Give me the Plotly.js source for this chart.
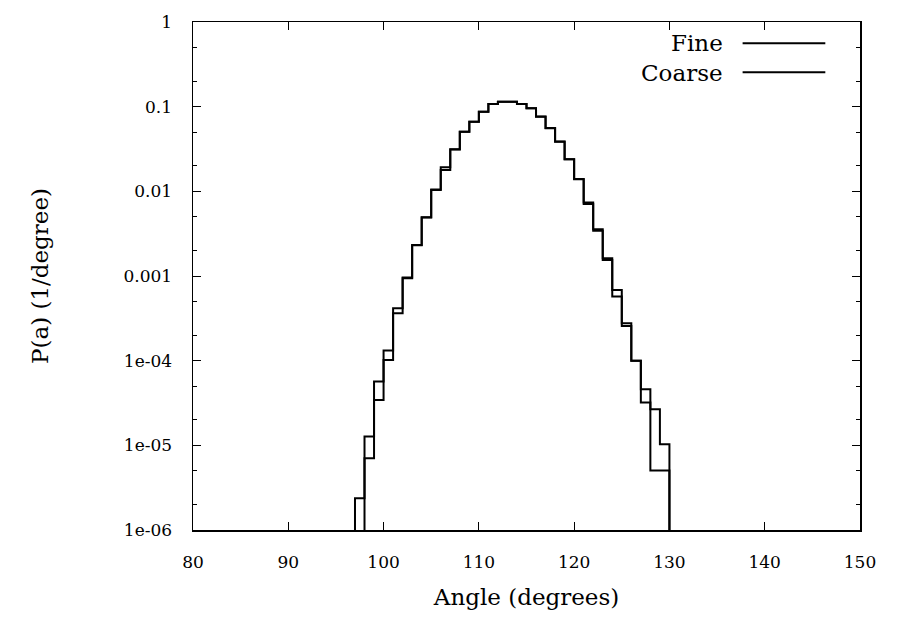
<!DOCTYPE html>
<html>
<head>
<meta charset="utf-8">
<script src="https://cdn.plot.ly/plotly-3.0.1.min.js"></script>
<style>html,body{margin:0;padding:0;background:#fff;}#chart{width:906px;height:623px;}</style>
</head>
<body>
<div id="chart"></div>
<script>
// Bin edges (degrees), 1-degree bins
var binEdges = [97,98,99,100,101,102,103,104,105,106,107,108,109,110,111,112,113,114,115,116,117,118,119,120,121,122,123,124,125,126,127,128,129,130];
// P(a) per bin (1/degree), bins 97..129
var fineVals = [2.37e-6,1.27e-5,5.66e-5,1.32e-4,4.17e-4,9.57e-4,2.33e-3,4.94e-3,0.0105,0.0192,0.0314,0.0507,0.0665,0.0873,0.1076,0.1146,0.1140,0.1076,0.0958,0.0762,0.0556,0.0386,0.0239,0.0139,7.10e-3,3.43e-3,1.55e-3,5.71e-4,2.57e-4,9.95e-5,3.2e-5,5.04e-6,5.04e-6];
var coarseVals = [0,7.06e-6,3.44e-5,1.02e-4,3.64e-4,9.4e-4,2.30e-3,4.90e-3,0.0104,0.0179,0.0312,0.0505,0.0665,0.0870,0.1075,0.1145,0.1140,0.1078,0.0960,0.0765,0.0558,0.0388,0.0240,0.0140,7.36e-3,3.56e-3,1.62e-3,6.85e-4,2.77e-4,9.95e-5,4.6e-5,2.67e-5,1.03e-5];
var seriesNames = ["Fine","Coarse"];
var yTickVals = [1,0.1,0.01,0.001,1e-4,1e-5,1e-6];
var yTickText = ["1","0.1","0.01","0.001","1e-04","1e-05","1e-06"];
var xTickVals = [80,90,100,110,120,130,140,150];

var FLOOR = 1e-9;
function stepTrace(vals, name){
  var x = [binEdges[0]].concat(binEdges);
  var y = [FLOOR].concat(vals.map(function(v){return v>0?v:FLOOR;})).concat([FLOOR]);
  return {x:x, y:y, name:name, type:'scatter', mode:'lines',
          line:{shape:'hv', color:'#000', width:2}, showlegend:false, hoverinfo:'skip'};
}
var fam = '"DejaVu Serif", "Liberation Serif", serif';
var tickFont = {family:fam, size:17, color:'#000'};
var textFont = {family:fam, size:23, color:'#000'};
var data = [stepTrace(fineVals, seriesNames[0]), stepTrace(coarseVals, seriesNames[1])];

var axisCommon = {showline:true, linecolor:'#000', linewidth:1.5, mirror:'allticks',
  ticks:'inside', ticklen:8, tickwidth:1, tickcolor:'#000', showgrid:false, zeroline:false,
  tickfont:tickFont};

var layout = {
  width:906, height:623,
  margin:{l:193, r:46, t:22, b:93},
  paper_bgcolor:'#fff', plot_bgcolor:'#fff',
  font:tickFont,
  showlegend:false,
  xaxis: Object.assign({}, axisCommon, {
    range:[80,150], tickmode:'array', tickvals:xTickVals, ticktext:xTickVals.map(String),
    ticklabelstandoff:16,
    title:{text:'Angle (degrees)', font:textFont, standoff:18}
  }),
  yaxis: Object.assign({}, axisCommon, {
    type:'log', range:[-6,0], tickmode:'array', tickvals:yTickVals, ticktext:yTickText,
    ticklabelstandoff:16,
    minor:{ticks:'inside', ticklen:4, tickcolor:'#000', dtick:'D2', showgrid:false},
    title:{text:'P(a) (1/degree)', font:textFont, standoff:68}
  }),
  annotations:[
    {xref:'paper', yref:'paper', x:0.798, y:0.958, xanchor:'right', yanchor:'middle', text:seriesNames[0], showarrow:false, font:textFont},
    {xref:'paper', yref:'paper', x:0.798, y:0.899, xanchor:'right', yanchor:'middle', text:seriesNames[1], showarrow:false, font:textFont}
  ],
  shapes:[
    {type:'line', xref:'paper', yref:'paper', x0:0.824, x1:0.948, y0:0.958, y1:0.958, line:{color:'#000', width:2}},
    {type:'line', xref:'paper', yref:'paper', x0:0.824, x1:0.948, y0:0.901, y1:0.901, line:{color:'#000', width:2}}
  ]
};
Plotly.newPlot('chart', data, layout, {staticPlot:true, displayModeBar:false});
</script>
</body>
</html>
